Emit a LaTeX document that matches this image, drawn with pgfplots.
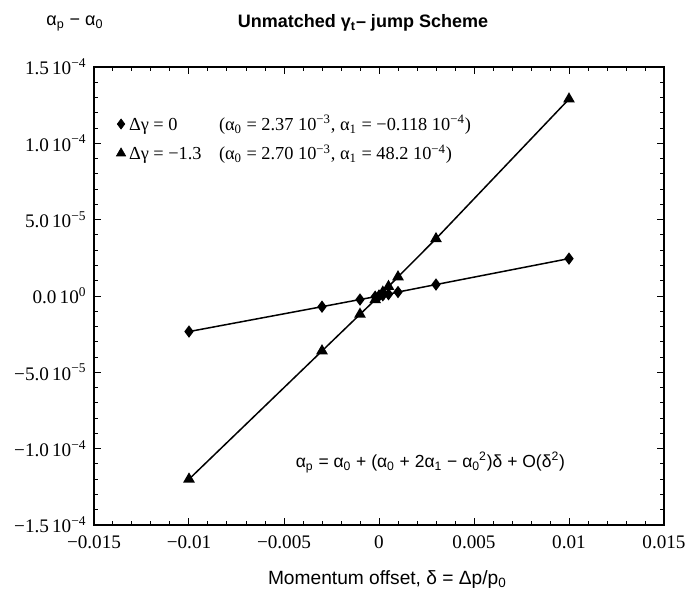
\documentclass[border=0pt]{standalone}
\usepackage{fontspec}
\setmainfont{Liberation Serif}
\setsansfont{Liberation Sans}
\usepackage{pgfplots}
\pgfplotsset{compat=1.18}
\begin{document}
\begin{tikzpicture}
\useasboundingbox (-56.4pt,-42pt) rectangle (356.4pt,315pt);
\begin{axis}[
  scale only axis, width=342pt, height=274.8pt,
  xmin=-0.015, xmax=0.015, ymin=-1.5e-4, ymax=1.5e-4,
  xtick={-0.015,-0.01,-0.005,0,0.005,0.01,0.015},
  xticklabels={−0.015,−0.01,−0.005,0,0.005,0.01,0.015},
  ytick={-1.5e-4,-1e-4,-5e-5,0,5e-5,1e-4,1.5e-4},
  yticklabels={−1.5\,10\textsuperscript{−4},−1.0\,10\textsuperscript{−4},−5.0\,10\textsuperscript{−5},0.0\,10\textsuperscript{0},5.0\,10\textsuperscript{−5},1.0\,10\textsuperscript{−4},1.5\,10\textsuperscript{−4}},
  scaled ticks=false,
  minor x tick num=4, minor y tick num=4,
  tick align=inside, major tick length=4pt, minor tick length=2.2pt,
  axis line style={line width=1.2pt},
  every tick/.style={black, line width=0.6pt},
  tick label style={font=\fontsize{11.5}{13}\selectfont},
  xticklabel style={yshift=-3pt},
  yticklabel style={xshift=-1pt},
  legend style={draw=none, fill=none, at={(0.03,0.91)}, anchor=north west,
    font=\fontsize{11}{13}\selectfont, row sep=3pt},
  legend cell align=left,
]
\addlegendimage{only marks, mark=diamond*, mark size=3pt, black}
\addlegendentry{\makebox[54pt][l]{Δγ = 0}(α\textsubscript{0} = 2.37 10\textsuperscript{−3}, α\textsubscript{1} = −0.118 10\textsuperscript{−4})}
\addlegendimage{only marks, mark=triangle*, mark size=3.2pt, black}
\addlegendentry{\makebox[54pt][l]{Δγ = −1.3}(α\textsubscript{0} = 2.70 10\textsuperscript{−3}, α\textsubscript{1} = 48.2 10\textsuperscript{−4})}

% delta gamma = 0
\addplot[forget plot, black, line width=0.9pt, mark=diamond*, mark size=3pt] coordinates {
  (-0.01,-2.33e-5) (-0.003,-7.0e-6) (-0.001,-2.3e-6) (-0.0002,-4.7e-7) (0,0)
  (0.0002,4.7e-7) (0.0005,1.2e-6) (0.001,2.6e-6) (0.003,7.5e-6) (0.01,2.45e-5)};
% delta gamma = -1.3
\addplot[forget plot, black, line width=0.9pt, mark=triangle*, mark size=3.2pt] coordinates {
  (-0.01,-1.2e-4) (-0.003,-3.6e-5) (-0.001,-1.2e-5) (-0.0002,-2.5e-6) (0,0)
  (0.0002,2.5e-6) (0.0005,6.2e-6) (0.001,1.25e-5) (0.003,3.75e-5) (0.01,1.29e-4)};

\node[font=\sffamily\fontsize{10.5}{12}\selectfont, anchor=east] at (axis cs:0.0101,-1.09e-4)
  {α\textsubscript{p} = α\textsubscript{0} + (α\textsubscript{0} + 2α\textsubscript{1} − α\textsubscript{0}\kern-0.5pt\textsuperscript{2})δ + O(δ\textsuperscript{2})};
\end{axis}
\node[font=\sffamily\bfseries\fontsize{10.8}{13}\selectfont] at (161.4pt,301pt) {Unmatched γ\textsubscript{t}– jump Scheme};
\node[font=\sffamily\fontsize{10.8}{13}\selectfont] at (-11.4pt,301pt) {α\textsubscript{p} − α\textsubscript{0}};
\node[font=\sffamily\fontsize{11.5}{14}\selectfont] at (176pt,-33pt) {Momentum offset, δ = Δp/p\textsubscript{0}};
\end{tikzpicture}
\end{document}
